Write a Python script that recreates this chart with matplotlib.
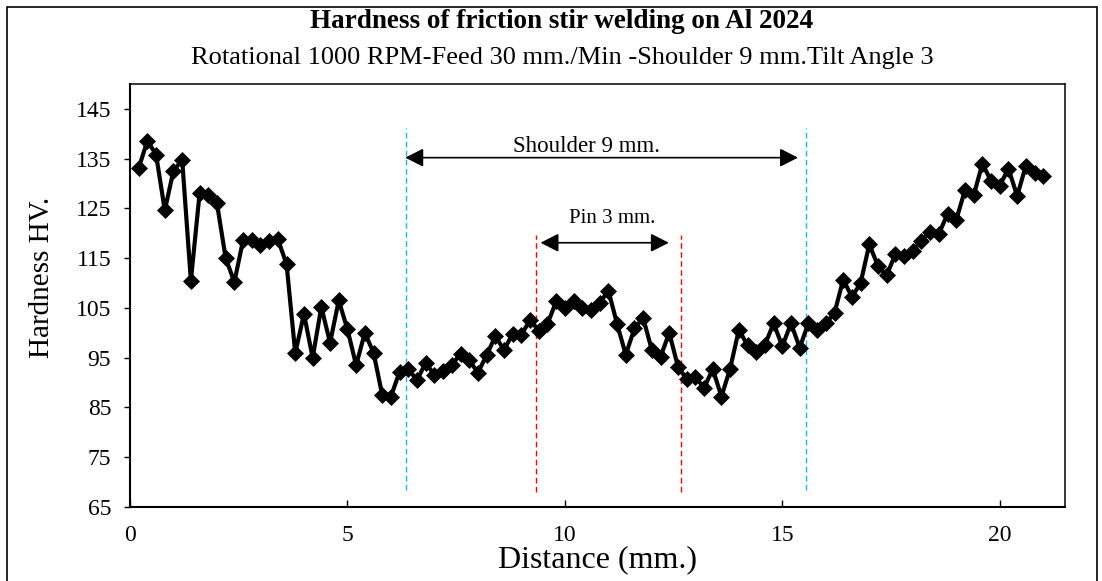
import numpy as np
import matplotlib
matplotlib.use("Agg")
import matplotlib.pyplot as plt
from matplotlib.patches import Rectangle

plt.rcParams["font.family"] = ["Liberation Serif", "DejaVu Serif"]

# Hardness readings, one every 0.2 mm across the weld
distance = np.round(np.arange(1, 106) * 0.2, 1)
hardness = [
    133.1, 138.6, 135.8, 124.6, 132.6, 134.7, 110.5, 128.0, 127.7, 126.0,
    115.0, 110.2, 118.6, 118.6, 117.6, 118.5, 118.8, 113.8, 95.9, 103.8,
    95.0, 105.2, 98.0, 106.5, 100.7, 93.5, 100.0, 96.0, 87.5, 87.2,
    92.2, 92.7, 90.5, 94.0, 91.5, 92.3, 93.5, 95.8, 94.5, 92.0,
    95.5, 99.3, 96.6, 99.8, 99.6, 102.6, 100.4, 101.8, 106.3, 105.0,
    106.3, 104.9, 104.6, 106.0, 108.5, 101.8, 95.6, 100.9, 103.0, 96.5,
    95.2, 100.0, 93.2, 90.7, 91.2, 88.9, 92.7, 87.2, 92.8, 100.6,
    97.5, 96.2, 97.6, 101.9, 97.3, 101.9, 97.0, 102.0, 100.6, 101.9,
    104.0, 110.7, 107.2, 110.0, 117.8, 113.4, 111.6, 115.8, 115.5, 116.5,
    118.5, 120.3, 119.9, 123.9, 122.7, 128.7, 127.6, 134.0, 130.5, 129.6,
    133.0, 127.5, 133.6, 132.1, 131.6,
]

x_ticks = [0, 5, 10, 15, 20]
y_ticks = [65, 75, 85, 95, 105, 115, 125, 135, 145]

# Tool zones (mm)
shoulder_edges = [6.34, 15.54]
pin_edges = [9.33, 12.68]
shoulder_arrow = [6.33, 15.36]
pin_arrow = [9.44, 12.39]

title = "Hardness of friction stir welding on Al 2024"
subtitle = "Rotational 1000 RPM-Feed 30 mm./Min -Shoulder 9 mm.Tilt Angle 3"

W, H = 1102, 581
fig = plt.figure(figsize=(W / 100, H / 100), dpi=100)
ax = fig.add_axes([130 / W, 1 - 507 / H, (1065 - 130) / W, (507 - 84) / H])

ax.plot(distance, hardness, color="black", lw=3, marker="D", ms=8,
        mfc="black", mec="black", mew=0.5, zorder=3)

ax.set_xlim(0, 21.5)
ax.set_ylim(65, 150)
ax.set_xticks(x_ticks)
ax.set_yticks(y_ticks)
ax.tick_params(axis="x", direction="in", length=5, width=1, pad=13,
               labelsize=17, colors="black")
ax.tick_params(axis="y", direction="out", length=4.5, width=1, pad=9,
               labelsize=17, colors="black")
for side, sp in ax.spines.items():
    sp.set_linewidth(1.5 if side in ("bottom", "left") else 1.1)
    sp.set_color("black")

# Zone boundaries
for xv in shoulder_edges:
    ax.plot([xv, xv], [68.4, 141.2], color="#1BB3F0", lw=1.0,
            dashes=(4, 2.5), zorder=2)
for xv in pin_edges:
    ax.plot([xv, xv], [68.1, 119.7], color="#FF0000", lw=1.0,
            dashes=(4, 2.5), zorder=2)

arrow = dict(arrowstyle="<|-|>,head_length=0.55,head_width=0.28",
             color="black", lw=1.2, mutation_scale=20, shrinkA=0, shrinkB=0)
ax.annotate("", xy=(shoulder_arrow[1], 135.2), xytext=(shoulder_arrow[0], 135.2),
            arrowprops=arrow, zorder=4)
ax.annotate("", xy=(pin_arrow[1], 118.1), xytext=(pin_arrow[0], 118.1),
            arrowprops=arrow, zorder=4)
ax.text(10.5, 137.4, "Shoulder 9 mm.", fontsize=16.5, ha="center", va="center")
ax.text(11.08, 122.9, "Pin 3 mm.", fontsize=15, ha="center", va="center")

fig.text(562 / W, 1 - 21 / H, title, fontsize=19.5, fontweight="bold",
         ha="center", va="center")
fig.text(562 / W, 1 - 58 / H, subtitle, fontsize=19, ha="center", va="center")
fig.text(42 / W, 1 - 277.5 / H, "Hardness HV.", fontsize=21, rotation=90,
         ha="center", va="center")
fig.text(597.5 / W, 1 - 560 / H, "Distance (mm.)", fontsize=23,
         ha="center", va="center")

# Outer frame
fig.patches.append(Rectangle((7 / W, -0.05), (1097 - 7) / W, 1 - 7 / H + 0.05,
                             transform=fig.transFigure, fill=False,
                             edgecolor="black", lw=1.2, clip_on=False))

fig.savefig("out.png", dpi=100)
